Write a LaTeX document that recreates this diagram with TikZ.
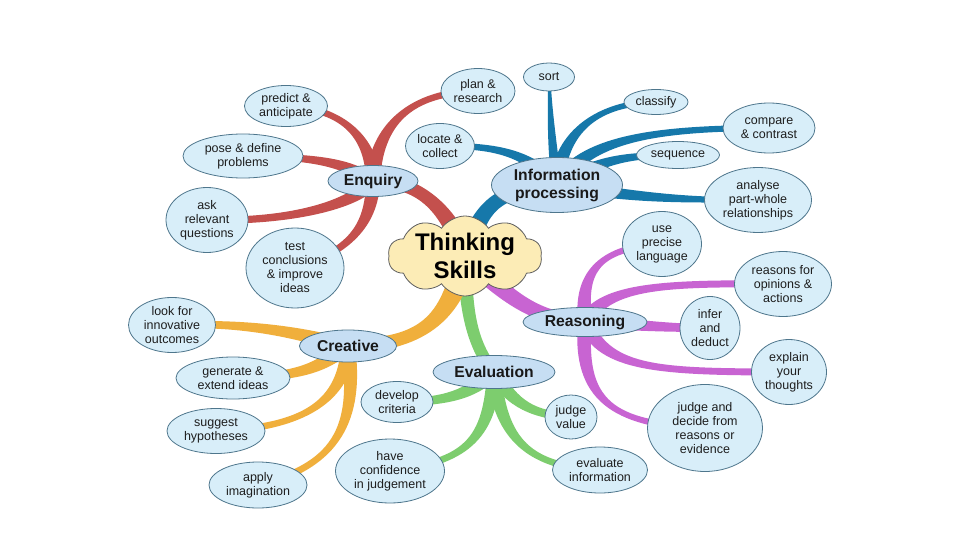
\documentclass[tikz,border=0pt]{standalone}
\usepackage{fontspec}
\setmainfont{Liberation Sans}
\usetikzlibrary{shapes.geometric,shapes.symbols,calc,backgrounds}
\definecolor{leaffill}{RGB}{216,238,249}
\definecolor{leafline}{RGB}{78,118,140}
\definecolor{topicfill}{RGB}{198,222,243}
\definecolor{cloudfill}{RGB}{252,236,182}
\definecolor{cloudline}{RGB}{95,95,95}
\definecolor{txt}{RGB}{30,30,30}
\definecolor{bred}{RGB}{196,80,77}
\definecolor{bblue}{RGB}{22,120,170}
\definecolor{bmag}{RGB}{200,100,210}
\definecolor{bgreen}{RGB}{125,205,110}
\definecolor{borange}{RGB}{240,175,60}
% tapered branch: start node, control 1, control 2, end node, half width at start, half width at end, colour
\newcommand\taper[7]{%
  \fill[#7] ($(#1)!#5pt!90:(#2)$) .. controls ($(#2)!#5pt!-90:(#1)$) and ($(#3)!#6pt!90:(#4)$) .. ($(#4)!#6pt!-90:(#3)$)
    -- ($(#4)!#6pt!90:(#3)$) .. controls ($(#3)!#6pt!-90:(#4)$) and ($(#2)!#5pt!90:(#1)$) .. ($(#1)!#5pt!-90:(#2)$) -- cycle;}
\tikzset{
  leaf/.style 2 args={ellipse, draw=leafline, fill=leaffill, line width=0.8pt, minimum width=#1pt, minimum height=#2pt, inner sep=0pt},
  topic/.style 2 args={ellipse, draw=leafline, fill=topicfill, line width=0.8pt, minimum width=#1pt, minimum height=#2pt, inner sep=0pt},
  lbl/.style={font=\fontsize{12.5}{14}\selectfont, text=txt, align=center, inner sep=0pt},
  tlbl/.style={font=\bfseries\fontsize{15.7}{18}\selectfont, text=black!90, align=center, inner sep=0pt},
  clbl/.style={font=\bfseries\fontsize{24}{28}\selectfont, text=black, align=center, inner sep=0pt},
}
\begin{document}
\begin{tikzpicture}[x=1pt,y=-1pt]
\useasboundingbox (0,0) rectangle (960,540);
% centre
\node[cloud, cloud puffs=10, cloud puff arc=110, aspect=1.9, draw=cloudline, fill=cloudfill, line width=0.8pt, minimum width=154pt, minimum height=80pt, inner sep=0pt, label={[clbl]center:{Thinking\\Skills}}] (ts) at (465,256) {};
% topics
\node[topic={90}{31}, label={[tlbl]center:Enquiry}] (enq) at (373,181) {};
\node[topic={131}{55}, label={[tlbl]center:{Information\\processing}}] (info) at (557,185) {};
\node[topic={124}{29}, label={[tlbl]center:Reasoning}] (reas) at (585,322) {};
\node[topic={122}{33}, label={[tlbl]center:Evaluation}] (eval) at (494,372) {};
\node[topic={97}{32}, label={[tlbl]center:Creative}] (crea) at (348,346) {};
% enquiry leaves
\node[leaf={83}{41}, label={[lbl]center:{predict \&\\anticipate}}] (predict) at (286,106) {};
\node[leaf={74}{45}, label={[lbl]center:{plan \&\\research}}] (plan) at (478,91) {};
\node[leaf={120}{44}, label={[lbl]center:{pose \& define\\problems}}] (pose) at (243,156) {};
\node[leaf={82}{65}, label={[lbl]center:{ask\\relevant\\questions}}] (ask) at (207,220) {};
\node[leaf={98}{80}, label={[lbl]center:{test\\conclusions\\\& improve\\ideas}}] (test) at (295,268) {};
% information processing leaves
\node[leaf={51}{28}, label={[lbl]center:sort}] (sort) at (549,77) {};
\node[leaf={64}{25}, label={[lbl]center:classify}] (classify) at (656,102) {};
\node[leaf={92}{50}, label={[lbl]center:{compare\\\& contrast}}] (compare) at (769,128) {};
\node[leaf={83}{27}, label={[lbl]center:sequence}] (sequence) at (678,155) {};
\node[leaf={107}{65}, label={[lbl]center:{analyse\\part-whole\\relationships}}] (analyse) at (758,200) {};
\node[leaf={69}{45}, label={[lbl]center:{locate \&\\collect}}] (locate) at (440,146) {};
% reasoning leaves
\node[leaf={79}{65}, label={[lbl]center:{use\\precise\\language}}] (use) at (662,244) {};
\node[leaf={97}{65}, label={[lbl]center:{reasons for\\opinions \&\\actions}}] (reasons) at (783,284) {};
\node[leaf={60}{63}, label={[lbl]center:{infer\\and\\deduct}}] (infer) at (710,328) {};
\node[leaf={75}{65}, label={[lbl]center:{explain\\your\\thoughts}}] (explain) at (789,372) {};
\node[leaf={115}{87}, label={[lbl]center:{judge and\\decide from\\reasons or\\evidence}}] (judgede) at (705,428) {};
% evaluation leaves
\node[leaf={72}{41}, label={[lbl]center:{develop\\criteria}}] (develop) at (397,402) {};
\node[leaf={52}{44}, label={[lbl]center:{judge\\value}}] (judgev) at (571,417) {};
\node[leaf={95}{46}, label={[lbl]center:{evaluate\\information}}] (evalinfo) at (600,470) {};
\node[leaf={109}{64}, label={[lbl]center:{have\\confidence\\in judgement}}] (confid) at (390,471) {};
% creative leaves
\node[leaf={87}{55}, label={[lbl]center:{look for\\innovative\\outcomes}}] (look) at (172,325) {};
\node[leaf={114}{42}, label={[lbl]center:{generate \&\\extend ideas}}] (generate) at (233,378) {};
\node[leaf={98}{45}, label={[lbl]center:{suggest\\hypotheses}}] (suggest) at (216,431) {};
\node[leaf={98}{46}, label={[lbl]center:{apply\\imagination}}] (apply) at (258,485) {};
\begin{scope}[on background layer]
\fill[white] (0,0) rectangle (960,540);
% enquiry
\taper{ts}{448,205}{415,180}{enq}{9}{7}{bred}
\taper{enq}{372,140}{345,108}{predict}{7}{3.5}{bred}
\taper{enq}{376,125}{410,92}{plan}{7}{3.5}{bred}
\taper{enq}{345,162}{315,157}{pose}{6}{3}{bred}
\taper{enq}{355,205}{290,222}{ask}{7}{3.5}{bred}
\taper{enq}{372,220}{355,250}{test}{7}{3.5}{bred}
% information processing
\taper{ts}{482,205}{495,190}{info}{9}{8}{bblue}
\taper{info}{551,140}{550,105}{sort}{5}{1.5}{bblue}
\taper{info}{560,130}{600,103}{classify}{7}{3}{bblue}
\taper{info}{585,140}{650,128}{compare}{7}{3}{bblue}
\taper{info}{600,160}{625,155}{sequence}{6}{3}{bblue}
\taper{info}{640,198}{680,200}{analyse}{6}{2.5}{bblue}
\taper{info}{530,155}{500,145}{locate}{6}{3}{bblue}
% reasoning
\taper{ts}{505,295}{535,320}{reas}{9}{7}{bmag}
\taper{reas}{580,275}{595,248}{use}{7}{3.5}{bmag}
\taper{reas}{605,285}{665,283}{reasons}{7}{3.5}{bmag}
\taper{reas}{640,325}{665,328}{infer}{6}{4}{bmag}
\taper{reas}{605,370}{660,372}{explain}{7}{3.5}{bmag}
\taper{reas}{578,400}{612,425}{judgede}{7}{3.5}{bmag}
% evaluation
\taper{ts}{465,310}{472,345}{eval}{7}{6}{bgreen}
\taper{eval}{470,395}{445,402}{develop}{7}{4}{bgreen}
\taper{eval}{512,405}{535,415}{judgev}{7}{4}{bgreen}
\taper{eval}{500,440}{530,467}{evalinfo}{7}{3.5}{bgreen}
\taper{eval}{490,440}{465,462}{confid}{7}{3.5}{bgreen}
% creative
\taper{ts}{452,320}{420,345}{crea}{11}{7}{borange}
\taper{crea}{305,335}{255,322}{look}{7}{3.5}{borange}
\taper{crea}{320,368}{300,377}{generate}{7}{4}{borange}
\taper{crea}{345,400}{305,428}{suggest}{7}{3.5}{borange}
\taper{crea}{358,420}{340,465}{apply}{7}{3.5}{borange}
\end{scope}
\end{tikzpicture}
\end{document}
